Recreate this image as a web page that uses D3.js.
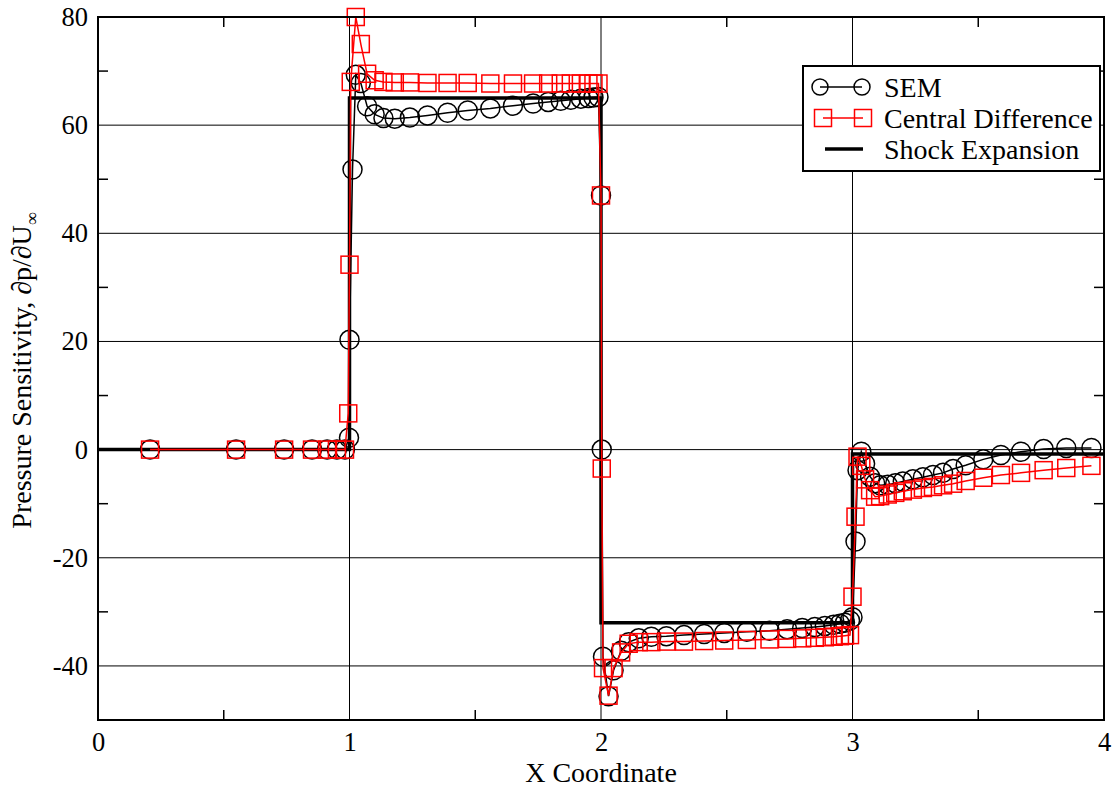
<!DOCTYPE html>
<html><head><meta charset="utf-8">
<script src="https://cdn.jsdelivr.net/npm/d3@7"></script>
<style>
body{margin:0;background:#fff;}
text{font-family:"Liberation Serif","Times New Roman",serif;}
</style></head>
<body><svg id="c" width="1115" height="788"></svg>
<script>
// ---- data ----
const xTicks = [0, 1, 2, 3, 4];
const yTicks = [-40, -20, 0, 20, 40, 60, 80];
const xMinor = [0.5, 1.5, 2.5, 3.5];
const yMinor = [-30, -10, 10, 30, 50, 70];
const seriesNames = ["SEM", "Central Difference", "Shock Expansion"];

const semX = [0.207,0.549,0.740,0.851,0.911,0.950,0.982,0.998,
  1.0,1.012,1.025,1.045,1.07,1.10,1.135,1.18,1.24,1.31,1.39,1.47,1.56,1.65,1.73,1.79,1.84,1.88,1.92,1.95,1.97,1.99,
  2.0,2.003,2.008,2.03,2.05,2.08,2.11,2.15,2.20,2.26,2.33,2.41,2.49,2.58,2.67,2.74,2.80,2.85,2.89,2.925,2.95,2.97,2.99,
  3.0,3.012,3.02,3.035,3.05,3.07,3.09,3.11,3.14,3.17,3.20,3.24,3.28,3.32,3.36,3.40,3.45,3.52,3.59,3.67,3.76,3.85,3.95];
const semY = [0,0,0,0,0,0,0,2.2,
  20.3,51.8,69.3,67.8,63.5,62.0,61.3,61.2,61.4,61.8,62.3,62.7,63.1,63.6,64.0,64.3,64.5,64.7,64.9,65.0,65.1,65.2,
  47.0,0.0,-38.3,-45.6,-40.8,-37.2,-35.6,-34.9,-34.6,-34.5,-34.3,-34.1,-33.9,-33.7,-33.5,-33.2,-33.0,-32.8,-32.6,-32.4,-32.2,-32.0,-31.6,
  -31.0,-17.0,-3.8,-0.4,-2.6,-5.0,-6.2,-6.6,-6.5,-6.2,-5.9,-5.5,-5.1,-4.7,-4.3,-3.6,-2.9,-1.8,-1.0,-0.4,0.1,0.3,0.3];

const cdX = [0.207,0.549,0.740,0.851,0.911,0.950,0.982,0.995,
  1.0,1.005,1.025,1.045,1.07,1.10,1.135,1.18,1.24,1.31,1.39,1.47,1.56,1.65,1.73,1.79,1.84,1.88,1.92,1.95,1.97,1.99,
  2.0,2.003,2.008,2.03,2.05,2.08,2.11,2.15,2.20,2.26,2.33,2.41,2.49,2.58,2.67,2.74,2.80,2.85,2.89,2.925,2.95,2.97,2.99,
  3.0,3.012,3.02,3.035,3.05,3.07,3.09,3.11,3.14,3.17,3.20,3.24,3.28,3.32,3.36,3.40,3.45,3.52,3.59,3.67,3.76,3.85,3.95];
const cdY = [0,0,0,0,0,0,0,6.7,
  34.2,68.0,80.0,75.0,69.5,68.3,68.0,67.9,67.9,67.8,67.8,67.8,67.7,67.7,67.7,67.7,67.7,67.7,67.7,67.7,67.7,67.7,
  47.0,-3.5,-40.4,-45.5,-40.4,-37.5,-35.9,-35.6,-35.6,-35.5,-35.5,-35.4,-35.3,-35.2,-35.1,-35.0,-34.9,-34.8,-34.7,-34.6,-34.5,-34.4,-34.3,
  -27.2,-12.4,-1.3,-3.0,-5.5,-7.5,-8.7,-8.6,-8.3,-8.0,-7.7,-7.4,-7.1,-6.9,-6.6,-6.3,-5.8,-5.2,-4.7,-4.3,-3.8,-3.4,-3.0];

const shockX = [0, 1, 1, 2, 2, 3, 3, 4];
const shockY = [0, 0, 65, 65, -32, -32, -0.8, -0.8];

// ---- chart ----
const svg = d3.select("#c");
const L = 98, R = 1104, T = 17, B = 720;
const x = d3.scaleLinear().domain([0, 4]).range([L, R]);
const y = d3.scaleLinear().domain([-50, 80]).range([B, T]);

// grid
svg.append("g").selectAll("line").data(xTicks.slice(1, -1)).join("line")
  .attr("x1", d => x(d)).attr("x2", d => x(d)).attr("y1", T).attr("y2", B)
  .attr("stroke", "#000").attr("stroke-width", 1);
svg.append("g").selectAll("line").data(yTicks).join("line")
  .attr("x1", L).attr("x2", R).attr("y1", d => y(d)).attr("y2", d => y(d))
  .attr("stroke", "#000").attr("stroke-width", 1);

// axes
const tickFont = 26.5;
const fmt = d => String(d);
const gx = svg.append("g").attr("transform", `translate(0,${B})`)
  .call(d3.axisBottom(x).tickValues(xTicks).tickSize(0).tickPadding(12).tickFormat(fmt));
const gy = svg.append("g").attr("transform", `translate(${L},0)`)
  .call(d3.axisLeft(y).tickValues(yTicks).tickSize(0).tickPadding(10).tickFormat(fmt));
[gx, gy].forEach(g => {
  g.select(".domain").remove();
  g.attr("font-family", null);
  g.selectAll("text").attr("font-size", tickFont).attr("fill", "#000");
});
// minor ticks
const mt = 10;
svg.append("g").selectAll("line").data(xMinor).join("line")
  .attr("x1", d => x(d)).attr("x2", d => x(d)).attr("y1", B).attr("y2", B - mt)
  .attr("stroke", "#000").attr("stroke-width", 1.5);
svg.append("g").selectAll("line").data(xMinor).join("line")
  .attr("x1", d => x(d)).attr("x2", d => x(d)).attr("y1", T).attr("y2", T + mt)
  .attr("stroke", "#000").attr("stroke-width", 1.5);
svg.append("g").selectAll("line").data(yMinor).join("line")
  .attr("x1", L).attr("x2", L + mt).attr("y1", d => y(d)).attr("y2", d => y(d))
  .attr("stroke", "#000").attr("stroke-width", 1.5);
svg.append("g").selectAll("line").data(yMinor).join("line")
  .attr("x1", R).attr("x2", R - mt).attr("y1", d => y(d)).attr("y2", d => y(d))
  .attr("stroke", "#000").attr("stroke-width", 1.5);

const shock = shockX.map((v, i) => [v, shockY[i]]);
const sem = semX.map((v, i) => [v, semY[i]]);
const cd = cdX.map((v, i) => [v, cdY[i]]);
const line = d3.line().x(d => x(d[0])).y(d => y(d[1]));

// shock expansion
svg.append("path").datum(shock).attr("d", line).attr("fill", "none")
  .attr("stroke", "#000").attr("stroke-width", 3.5);

// SEM
svg.append("path").datum(sem).attr("d", line).attr("fill", "none")
  .attr("stroke", "#000").attr("stroke-width", 1.5);
svg.append("g").selectAll("circle").data(sem).join("circle")
  .attr("cx", d => x(d[0])).attr("cy", d => y(d[1])).attr("r", 9.5)
  .attr("fill", "none").attr("stroke", "#000").attr("stroke-width", 1.5);

// central difference
const sq = 17;
svg.append("path").datum(cd).attr("d", line).attr("fill", "none")
  .attr("stroke", "#ff0000").attr("stroke-width", 1.5);
svg.append("g").selectAll("rect").data(cd).join("rect")
  .attr("x", d => x(d[0]) - sq / 2).attr("y", d => y(d[1]) - sq / 2)
  .attr("width", sq).attr("height", sq)
  .attr("fill", "none").attr("stroke", "#ff0000").attr("stroke-width", 1.5);

// frame
svg.append("rect").attr("x", L).attr("y", T).attr("width", R - L).attr("height", B - T)
  .attr("fill", "none").attr("stroke", "#000").attr("stroke-width", 2);

// axis titles
svg.append("text").attr("x", (L + R) / 2).attr("y", 782).attr("text-anchor", "middle")
  .attr("font-size", 28).text("X Coordinate");
const yt = svg.append("text").attr("transform", `translate(31,${(T + B) / 2 + 2}) rotate(-90)`)
  .attr("text-anchor", "middle").attr("font-size", 28);
yt.append("tspan").text("Pressure Sensitivity, \u2202p/\u2202U");
yt.append("tspan").attr("font-size", 18).attr("dy", 7).text("\u221E");

// legend
const lg = svg.append("g");
lg.append("rect").attr("x", 803).attr("y", 66).attr("width", 297).attr("height", 105)
  .attr("fill", "#fff").attr("stroke", "#000").attr("stroke-width", 2);
const rows = [87, 118, 149];
const lx1 = 820, lx2 = 862;
lg.append("line").attr("x1", lx1).attr("x2", lx2).attr("y1", rows[0]).attr("y2", rows[0]).attr("stroke", "#000").attr("stroke-width", 1.5);
lg.selectAll("circle").data([lx1, lx2]).join("circle").attr("cx", d => d).attr("cy", rows[0]).attr("r", 8)
  .attr("fill", "none").attr("stroke", "#000").attr("stroke-width", 1.5);
lg.append("line").attr("x1", lx1 + 3).attr("x2", lx2 + 1).attr("y1", rows[1]).attr("y2", rows[1]).attr("stroke", "#ff0000").attr("stroke-width", 1.5);
lg.selectAll("rect.m").data([lx1 + 3, lx2 + 1]).join("rect").attr("class", "m")
  .attr("x", d => d - 8.5).attr("y", rows[1] - 8.5).attr("width", 17).attr("height", 17)
  .attr("fill", "none").attr("stroke", "#ff0000").attr("stroke-width", 1.5);
lg.append("line").attr("x1", 825).attr("x2", 863).attr("y1", rows[2]).attr("y2", rows[2]).attr("stroke", "#000").attr("stroke-width", 3.5);
lg.selectAll("text").data(seriesNames).join("text")
  .attr("x", 884).attr("y", (d, i) => rows[i]).attr("dy", "0.35em")
  .attr("font-size", 28).text(d => d);
</script></body></html>
